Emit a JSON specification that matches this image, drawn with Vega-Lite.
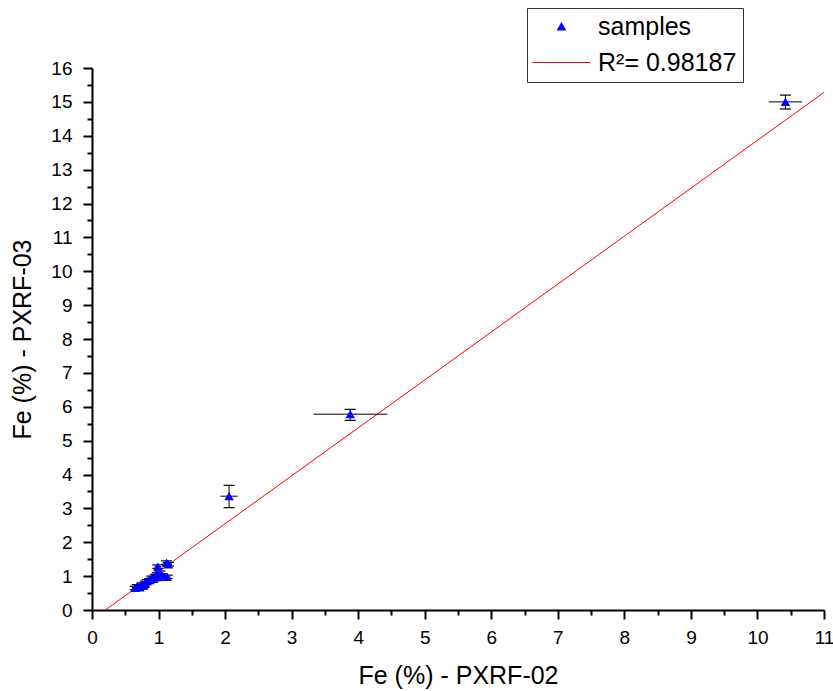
{
  "$schema": "https://vega.github.io/schema/vega-lite/v6.json",
  "width": 732,
  "height": 542,
  "autosize": {"type": "none"},
  "padding": {"left": 92, "top": 68, "right": 9, "bottom": 81},
  "background": "white",
  "config": {
    "view": {"stroke": null},
    "font": "Liberation Sans",
    "axis": {
      "grid": false,
      "domainColor": "black",
      "domainWidth": 2,
      "tickColor": "black",
      "tickWidth": 2,
      "tickSize": 9,
      "labelColor": "black",
      "labelFont": "Liberation Sans",
      "labelFontSize": 19,
      "titleFont": "Liberation Sans",
      "titleFontSize": 25,
      "titleFontWeight": "normal",
      "titleColor": "black",
      "labelFlush": false,
      "labelOverlap": false,
      "labelSeparation": -40
    }
  },
  "datasets": {
    "samples": [
      {"x": 10.42, "y": 15.0, "xlo": 10.17, "xhi": 10.67, "ylo": 14.79, "yhi": 15.2, "series": "samples"},
      {"x": 3.88, "y": 5.78, "xlo": 3.33, "xhi": 4.44, "ylo": 5.6, "yhi": 5.92, "series": "samples"},
      {"x": 2.06, "y": 3.36, "xlo": 1.93, "xhi": 2.19, "ylo": 3.02, "yhi": 3.68, "series": "samples"},
      {"x": 0.65, "y": 0.65, "xlo": 0.6, "xhi": 0.7, "ylo": 0.6, "yhi": 0.7, "series": "samples"},
      {"x": 0.68, "y": 0.7, "xlo": 0.63, "xhi": 0.73, "ylo": 0.65, "yhi": 0.75, "series": "samples"},
      {"x": 0.72, "y": 0.67, "xlo": 0.67, "xhi": 0.77, "ylo": 0.62, "yhi": 0.72, "series": "samples"},
      {"x": 0.75, "y": 0.75, "xlo": 0.7, "xhi": 0.8, "ylo": 0.7, "yhi": 0.8, "series": "samples"},
      {"x": 0.78, "y": 0.72, "xlo": 0.73, "xhi": 0.83, "ylo": 0.67, "yhi": 0.77, "series": "samples"},
      {"x": 0.8, "y": 0.8, "xlo": 0.75, "xhi": 0.85, "ylo": 0.75, "yhi": 0.85, "series": "samples"},
      {"x": 0.83, "y": 0.85, "xlo": 0.78, "xhi": 0.88, "ylo": 0.8, "yhi": 0.9, "series": "samples"},
      {"x": 0.87, "y": 0.88, "xlo": 0.82, "xhi": 0.92, "ylo": 0.83, "yhi": 0.93, "series": "samples"},
      {"x": 0.9, "y": 0.95, "xlo": 0.85, "xhi": 0.95, "ylo": 0.9, "yhi": 1.0, "series": "samples"},
      {"x": 0.93, "y": 0.92, "xlo": 0.88, "xhi": 0.98, "ylo": 0.87, "yhi": 0.97, "series": "samples"},
      {"x": 0.95, "y": 1.0, "xlo": 0.9, "xhi": 1.0, "ylo": 0.95, "yhi": 1.05, "series": "samples"},
      {"x": 0.98, "y": 1.05, "xlo": 0.93, "xhi": 1.03, "ylo": 1.0, "yhi": 1.1, "series": "samples"},
      {"x": 1.0, "y": 0.97, "xlo": 0.95, "xhi": 1.05, "ylo": 0.92, "yhi": 1.02, "series": "samples"},
      {"x": 1.02, "y": 1.1, "xlo": 0.97, "xhi": 1.07, "ylo": 1.05, "yhi": 1.15, "series": "samples"},
      {"x": 0.99, "y": 1.28, "xlo": 0.94, "xhi": 1.04, "ylo": 1.23, "yhi": 1.33, "series": "samples"},
      {"x": 1.12, "y": 1.4, "xlo": 1.07, "xhi": 1.17, "ylo": 1.35, "yhi": 1.45, "series": "samples"},
      {"x": 1.15, "y": 1.35, "xlo": 1.1, "xhi": 1.2, "ylo": 1.3, "yhi": 1.4, "series": "samples"},
      {"x": 1.13, "y": 0.98, "xlo": 1.08, "xhi": 1.18, "ylo": 0.93, "yhi": 1.03, "series": "samples"},
      {"x": 1.05, "y": 1.02, "xlo": 1.0, "xhi": 1.1, "ylo": 0.97, "yhi": 1.07, "series": "samples"}
    ],
    "fit": [
      {"x": 0.2, "y": 0.0, "series": "R²= 0.98187"},
      {"x": 11.0, "y": 15.28, "series": "R²= 0.98187"}
    ]
  },
  "encoding": {
    "x": {
      "type": "quantitative",
      "title": "Fe (%) - PXRF-02",
      "scale": {"domain": [0, 11], "nice": false},
      "axis": {
        "values": [0, 0.5, 1, 1.5, 2, 2.5, 3, 3.5, 4, 4.5, 5, 5.5, 6, 6.5, 7, 7.5, 8, 8.5, 9, 9.5, 10, 10.5, 11],
        "labelExpr": "datum.value % 1 === 0 ? format(datum.value, 'd') : ''",
        "labelOverlap": false,
        "tickSize": {"condition": {"test": "datum.value % 1 === 0", "value": 9}, "value": 5},
        "labelPadding": 9,
        "titlePadding": 16
      }
    },
    "y": {
      "type": "quantitative",
      "title": "Fe (%) - PXRF-03",
      "scale": {"domain": [0, 16], "nice": false},
      "axis": {
        "values": [0, 0.5, 1, 1.5, 2, 2.5, 3, 3.5, 4, 4.5, 5, 5.5, 6, 6.5, 7, 7.5, 8, 8.5, 9, 9.5, 10, 10.5, 11, 11.5, 12, 12.5, 13, 13.5, 14, 14.5, 15, 15.5, 16],
        "labelExpr": "datum.value % 1 === 0 ? format(datum.value, 'd') : ''",
        "labelOverlap": false,
        "labelSeparation": -40,
        "tickSize": {"condition": {"test": "datum.value % 1 === 0", "value": 9}, "value": 5},
        "labelPadding": 11,
        "titlePadding": 15
      }
    }
  },
  "layer": [
    {
      "data": {"name": "fit"},
      "mark": {"type": "line", "strokeWidth": 1, "clip": true},
      "encoding": {
        "x": {"field": "x"},
        "y": {"field": "y"},
        "color": {"field": "series", "type": "nominal"}
      }
    },
    {
      "data": {"name": "samples"},
      "mark": {"type": "rule", "color": "black", "strokeWidth": 1},
      "encoding": {
        "x": {"field": "xlo"},
        "x2": {"field": "xhi"},
        "y": {"field": "y"}
      }
    },
    {
      "data": {"name": "samples"},
      "mark": {"type": "rule", "color": "black", "strokeWidth": 1},
      "encoding": {
        "x": {"field": "x"},
        "y": {"field": "ylo"},
        "y2": {"field": "yhi"}
      }
    },
    {
      "data": {"name": "samples"},
      "mark": {"type": "tick", "orient": "horizontal", "color": "black", "size": 11, "thickness": 1.2, "opacity": 1},
      "encoding": {
        "x": {"field": "x"},
        "y": {"field": "ylo"}
      }
    },
    {
      "data": {"name": "samples"},
      "mark": {"type": "tick", "orient": "horizontal", "color": "black", "size": 11, "thickness": 1.2, "opacity": 1},
      "encoding": {
        "x": {"field": "x"},
        "y": {"field": "yhi"}
      }
    },
    {
      "data": {"name": "samples"},
      "mark": {"type": "point", "filled": true, "size": 90, "opacity": 1},
      "encoding": {
        "x": {"field": "x"},
        "y": {"field": "y"},
        "color": {
          "field": "series",
          "type": "nominal",
          "scale": {"domain": ["samples", "R²= 0.98187"], "range": ["#0000ff", "#ff0000"]},
          "legend": {
            "title": null,
            "orient": "none",
            "legendX": 435,
            "legendY": -60,
            "padding": 6,
            "strokeColor": "#333333",
            "fillColor": "white",
            "labelFont": "Liberation Sans",
            "labelFontSize": 25,
            "labelColor": "black",
            "labelOffset": 24,
            "symbolOffset": 16,
            "symbolSize": 60,
            "symbolStrokeWidth": 1.2,
            "symbolOpacity": 1,
            "rowPadding": 10,
            "encode": {
              "symbols": {
                "update": {
                  "stroke": {"signal": "scale('color', datum.value)"},
                  "fill": {"signal": "scale('color', datum.value)"},
                  "strokeOpacity": {"value": 1},
                  "opacity": {"value": 1}
                }
              }
            }
          }
        },
        "shape": {
          "field": "series",
          "type": "nominal",
          "scale": {"domain": ["samples", "R²= 0.98187"], "range": ["triangle-up", "M-7.5,0L7.5,0"]}
        }
      }
    }
  ]
}
